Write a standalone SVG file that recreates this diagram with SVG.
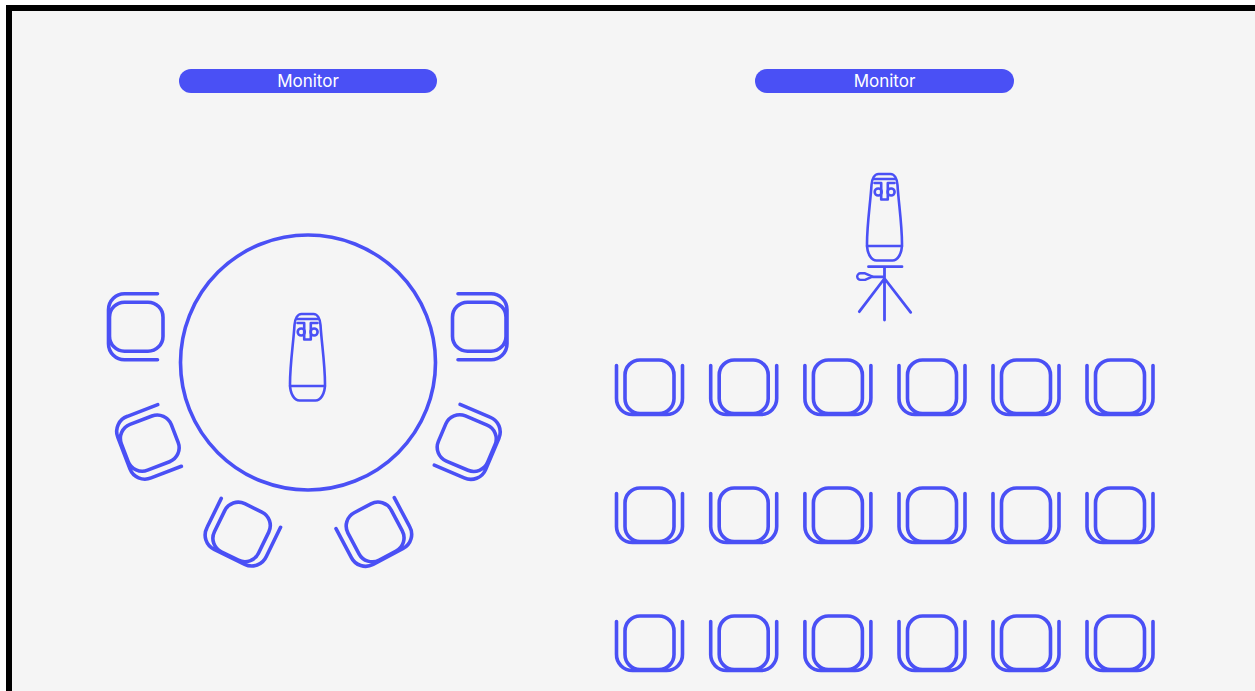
<svg xmlns="http://www.w3.org/2000/svg" width="1255" height="691" viewBox="0 0 1255 691">
<style>
.l{fill:none;stroke:#4a50f5;stroke-linecap:round;stroke-linejoin:round}
.p{fill:#4a50f5}
.t{font-family:"Inter","Liberation Sans",sans-serif;font-size:17px;fill:#fff;text-anchor:middle}
</style>
<defs>
<g id="chair" class="l" stroke-width="3.600">
<rect x="-24.500" y="-26.500" width="49" height="53.500" rx="15"/>
<path d="M-33,-21V11.500A16,16 0 0 0 -17,28H17A16,16 0 0 0 33,11.500V-21"/>
</g>
<g id="cam" class="l" stroke-width="2.600">
<path d="M-6,0H6C10,0 12.500,5 13,11C14,28 17.500,50 17.500,70C17.500,80 13,86.500 8,86.500H-8C-13,86.500 -17.500,80 -17.500,70C-17.500,50 -14,28 -13,11C-12.500,5 -10,0 -6,0Z"/>
<path d="M-10.500,5H10.500M-17.500,72H17.500M-10,9H-3.300V25.500H3.300V9H10"/>
<circle cx="-6.300" cy="18" r="3.500"/>
<circle cx="6.600" cy="18" r="3.500"/>
</g>
</defs>
<rect width="1255" height="691" fill="#fff"/>
<rect x="6" y="5" width="1249" height="686" fill="#000"/>
<rect x="12" y="11" width="1243" height="680" fill="#f5f5f5"/>
<g id="monitor-left">
<rect class="p" x="179" y="69" width="258" height="24" rx="12"/>
<text class="t" x="308" y="87">Monitor</text>
</g>
<g id="monitor-right">
<rect class="p" x="755" y="69" width="259" height="24" rx="12"/>
<text class="t" x="884.500" y="87">Monitor</text>
</g>
<g id="table"><circle class="l" cx="308" cy="362.500" r="127.500" stroke-width="3.600"/></g>
<g id="camera-table"><use href="#cam" transform="translate(307.500 314)"/></g>
<g id="camera-tripod">
<use href="#cam" transform="translate(884.500 174)"/>
<path class="l" stroke-width="2.800" d="M868.500,266.700H902M884.500,266.700V320M884.500,278.500L859.300,311.700M884.500,278.500L910.700,312.300M872.500,276.800H884.500"/>
<path class="l" stroke-width="2.400" d="M860.500,273.300H865L872.500,276.600L865,279.900H860.500A3.300,3.300 0 0 1 860.500,273.300Z"/>
</g>
<g id="round-chairs">
<use href="#chair" transform="translate(136.500 326.700) rotate(90)"/>
<use href="#chair" transform="translate(479 326.700) rotate(-90)"/>
<use href="#chair" transform="translate(150 443) rotate(69)"/>
<use href="#chair" transform="translate(466.500 443) rotate(-67)"/>
<use href="#chair" transform="translate(241.700 531.700) rotate(26)"/>
<use href="#chair" transform="translate(375 531.700) rotate(-28)"/>
</g>
<g id="row-1">
<use href="#chair" x="649.500" y="386.500"/><use href="#chair" x="743.700" y="386.500"/><use href="#chair" x="837.900" y="386.500"/><use href="#chair" x="932" y="386.500"/><use href="#chair" x="1026" y="386.500"/><use href="#chair" x="1120" y="386.500"/>
</g>
<g id="row-2">
<use href="#chair" x="649.500" y="514.500"/><use href="#chair" x="743.700" y="514.500"/><use href="#chair" x="837.900" y="514.500"/><use href="#chair" x="932" y="514.500"/><use href="#chair" x="1026" y="514.500"/><use href="#chair" x="1120" y="514.500"/>
</g>
<g id="row-3">
<use href="#chair" x="649.500" y="642.500"/><use href="#chair" x="743.700" y="642.500"/><use href="#chair" x="837.900" y="642.500"/><use href="#chair" x="932" y="642.500"/><use href="#chair" x="1026" y="642.500"/><use href="#chair" x="1120" y="642.500"/>
</g>
</svg>
